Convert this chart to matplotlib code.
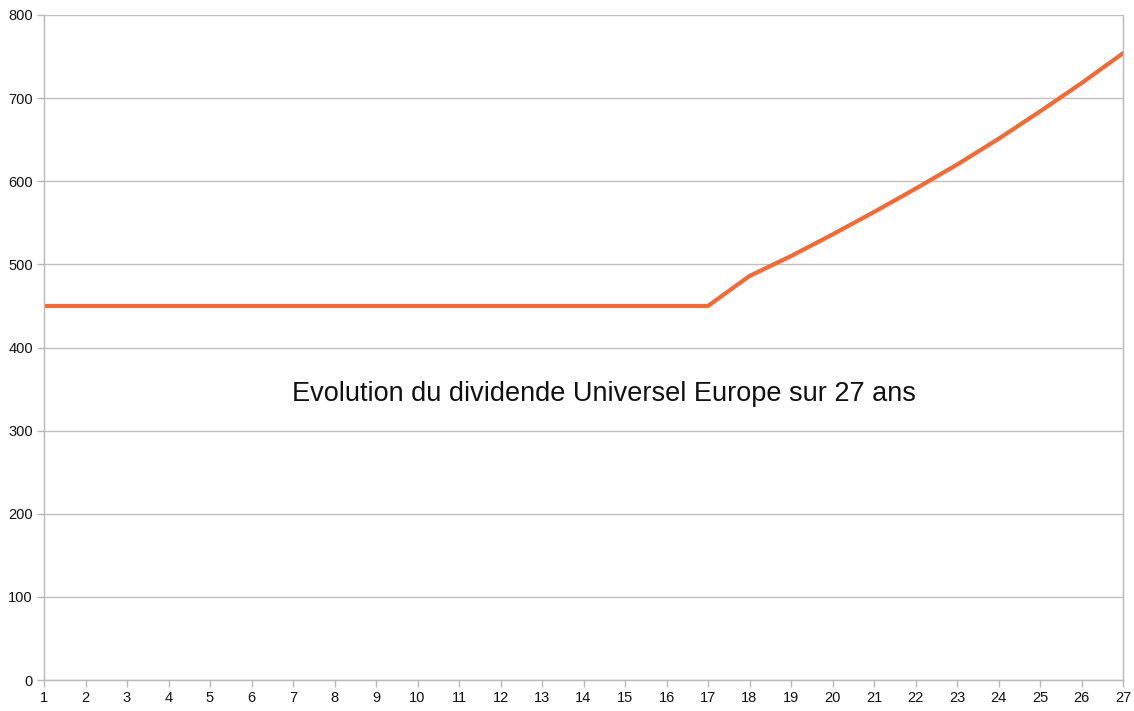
import matplotlib
matplotlib.use("Agg")
import matplotlib.pyplot as plt

plt.rcParams['font.family'] = ['Liberation Sans', 'DejaVu Sans']

years = list(range(1, 28))
dividend = [450]*17 + [486, 510, 536, 563, 591, 620, 651, 684, 718, 754]
yticks = [0, 100, 200, 300, 400, 500, 600, 700, 800]
title = "Evolution du dividende Universel Europe sur 27 ans"

fig = plt.figure(figsize=(11.34, 7.11), dpi=100)
ax = fig.add_axes([44/1134, 1-680/711, (1123-44)/1134, (680-15)/711])
ax.plot(years, dividend, color='#f26a35', lw=3.0, solid_joinstyle='miter')
ax.set_xlim(1, 27)
ax.set_ylim(0, 800)
ax.set_xticks(years)
ax.set_yticks(yticks)
ax.grid(axis='y', color='#c0c0c0', lw=1.0)
ax.set_axisbelow(True)
for s in ['left', 'right', 'bottom']:
    ax.spines[s].set_color('#b8b8b8')
    ax.spines[s].set_linewidth(1.0)
ax.spines['top'].set_visible(False)
ax.tick_params(axis='both', colors='#b8b8b8', labelcolor='#111111', labelsize=10.5, length=5, width=1)
ax.tick_params(axis='x', pad=3)
ax.tick_params(axis='y', pad=3)
ax.text(14.5, 344, title, ha='center', va='center', fontsize=19.5, color='#111111')
fig.savefig('out.png', dpi=100, facecolor='white')
